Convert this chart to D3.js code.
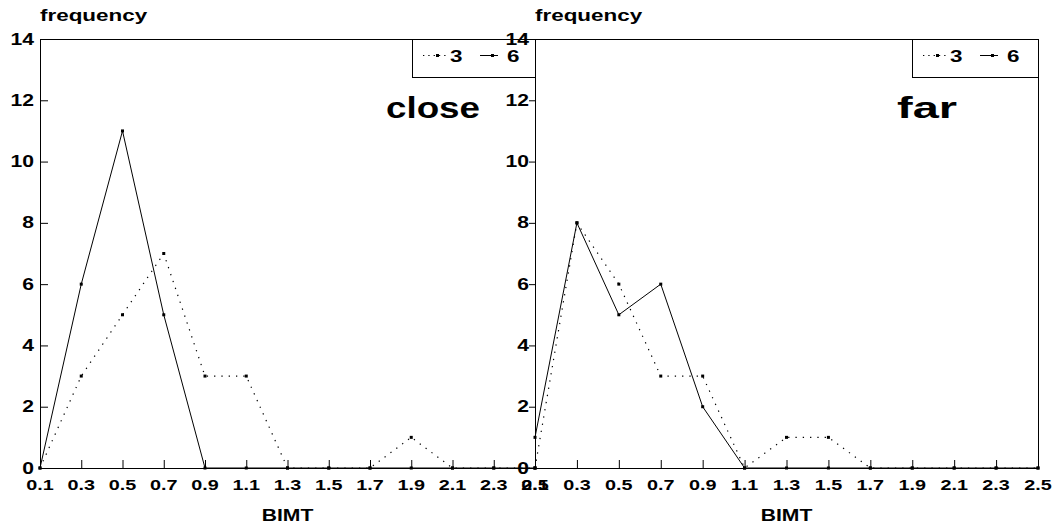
<!DOCTYPE html>
<html>
<head>
<meta charset="utf-8">
<script src="https://cdn.jsdelivr.net/npm/d3@7"></script>
<style>
  html, body { margin: 0; padding: 0; background: #fff; }
  svg { display: block; }
  text { font-family: "Liberation Sans", Arial, Helvetica, sans-serif; font-weight: bold; fill: #000; }
</style>
</head>
<body>
<svg id="chart" width="1061" height="527"></svg>
<script>
// ---- data ----
const bimt = [0.1, 0.3, 0.5, 0.7, 0.9, 1.1, 1.3, 1.5, 1.7, 1.9, 2.1, 2.3, 2.5];
const xTickLabels = ["0.1","0.3","0.5","0.7","0.9","1.1","1.3","1.5","1.7","1.9","2.1","2.3","2.5"];
const yTicks = [0, 2, 4, 6, 8, 10, 12, 14];
const seriesNames = ["3", "6"];
const closeS3 = [0, 3, 5, 7, 3, 3, 0, 0, 0, 1, 0, 0, 0];
const closeS6 = [0, 6, 11, 5, 0, 0, 0, 0, 0, 0, 0, 0, 0];
const farS3   = [0, 8, 6, 3, 3, 0, 1, 1, 0, 0, 0, 0, 0];
const farS6   = [1, 8, 5, 6, 2, 0, 0, 0, 0, 0, 0, 0, 0];
const panelTitles = ["close", "far"];
const yTitle = "frequency";
const xTitle = "BIMT";

// ---- layout ----
const SX = 1.32; // horizontal stretch of the wide bold font
const yTop = 39, yBot = 468;
const panels = [
  { x0: 40, x1: 535, title: panelTitles[0], titleX: 386, titleW: 94, s3: closeS3, s6: closeS6,
    yTickDir: 1, legX: 412, frameRight: false },
  { x0: 535, x1: 1038, title: panelTitles[1], titleX: 897, titleW: 60, s3: farS3, s6: farS6,
    yTickDir: -1, legX: 912, frameRight: true }
];
const DOT = "1.3,6";

const svg = d3.select("#chart");
const y = d3.scaleLinear().domain([0, 14]).range([yBot, yTop]);

function stext(g, x, yy, str, size, anchor) {
  return g.append("text")
    .attr("transform", `translate(${x},${yy}) scale(${SX},1)`)
    .attr("text-anchor", anchor || "start")
    .style("font-size", size + "px")
    .text(str);
}

panels.forEach(p => {
  const g = svg.append("g");
  const x = d3.scaleLinear().domain([0.1, 2.5]).range([p.x0, p.x1]);

  // frame
  g.append("line").attr("x1", p.x0).attr("x2", p.x1).attr("y1", yTop + 0.5).attr("y2", yTop + 0.5)
    .attr("stroke", "#000");
  if (p.frameRight) {
    g.append("line").attr("x1", p.x1 + 0.5).attr("x2", p.x1 + 0.5).attr("y1", yTop).attr("y2", yBot)
      .attr("stroke", "#000");
  }

  // x axis
  const xa = d3.axisBottom(x).tickValues(bimt).tickSize(-8).tickPadding(12)
    .tickFormat((d, i) => xTickLabels[i]);
  const xg = g.append("g").attr("transform", `translate(0,${yBot})`).call(xa);
  xg.select(".domain").attr("stroke", "#000");
  xg.selectAll(".tick line").attr("stroke", "#000");
  xg.selectAll(".tick text").remove();
  bimt.forEach((v, i) => stext(g, x(v), 490, xTickLabels[i], 15, "middle"));

  // y axis
  const ya = d3.axisLeft(y).tickValues(yTicks).tickSize(p.yTickDir > 0 ? -8 : 6).tickFormat(d3.format("d"));
  const yg = g.append("g").attr("transform", `translate(${p.x0},0)`).call(ya);
  yg.select(".domain").attr("stroke", "#000");
  yg.selectAll(".tick line").attr("stroke", "#000");
  yg.selectAll(".tick text").remove();
  yTicks.forEach(v => stext(g, p.x0 - 6, y(v) + 5.5, String(v), 16, "end"));

  // axis titles
  stext(g, p.x0, 21, yTitle, 17, "start");
  stext(g, (p.x0 + p.x1) / 2, 521, xTitle, 16, "middle");

  // panel title
  g.append("text").attr("x", p.titleX).attr("y", 118)
    .attr("textLength", p.titleW).attr("lengthAdjust", "spacingAndGlyphs")
    .style("font-size", "29px").text(p.title);

  // lines
  const line = d3.line().x((d, i) => x(bimt[i])).y(d => y(d));
  g.append("path").datum(p.s3).attr("d", line).attr("fill", "none")
    .attr("stroke", "#000").attr("stroke-width", 1.2).attr("stroke-dasharray", DOT);
  g.append("path").datum(p.s6).attr("d", line).attr("fill", "none")
    .attr("stroke", "#000").attr("stroke-width", 1);
  [p.s3, p.s6].forEach(s => {
    g.selectAll(null).data(s).enter().append("rect")
      .attr("x", (d, i) => x(bimt[i]) - 1.5).attr("y", d => y(d) - 1.5)
      .attr("width", 3).attr("height", 3).attr("fill", "#000");
  });

  // legend
  const lg = g.append("g");
  lg.append("rect").attr("x", p.legX + 0.5).attr("y", yTop + 0.5)
    .attr("width", p.x1 - p.legX).attr("height", 38)
    .attr("fill", "#fff").attr("stroke", "#000");
  const ly = 55.5;
  const lx = p.legX;
  lg.append("line").attr("x1", lx + 11).attr("x2", lx + 35).attr("y1", ly).attr("y2", ly)
    .attr("stroke", "#000").attr("stroke-width", 1.2).attr("stroke-dasharray", "1.3,4");
  lg.append("rect").attr("x", lx + 24).attr("y", ly - 1.5).attr("width", 3).attr("height", 3).attr("fill", "#000");
  stext(lg, lx + 38, ly + 6, seriesNames[0], 17, "start");
  lg.append("line").attr("x1", lx + 68).attr("x2", lx + 86).attr("y1", ly).attr("y2", ly)
    .attr("stroke", "#000").attr("stroke-width", 1);
  lg.append("rect").attr("x", lx + 79).attr("y", ly - 1.5).attr("width", 3).attr("height", 3).attr("fill", "#000");
  stext(lg, lx + 95, ly + 6, seriesNames[1], 17, "start");
});
</script>
</body>
</html>
